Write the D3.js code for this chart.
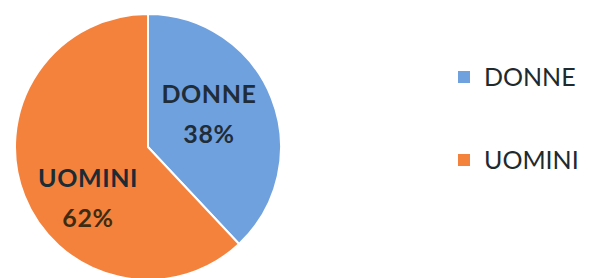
<!DOCTYPE html>
<html>
<head>
<meta charset="utf-8">
<script src="https://cdn.jsdelivr.net/npm/d3@7"></script>
<style>
  html, body { margin: 0; padding: 0; background: #fff; }
  svg { display: block; font-family: Lato, "Open Sans", sans-serif; }
</style>
</head>
<body>
<svg id="chart" width="590" height="278"></svg>
<script>
// data
const categories = ['DONNE', 'UOMINI'];
const values = [38, 62];
const colors = ['#70a1df', '#f5823c'];
const labelColors = [['#1f2d38', '#1f2d38'], ['#1b2c35', '#3e2c12']];

const svg = d3.select('#chart');

// pie geometry
const cx = 148, cy = 147, radius = 133;

const pie = d3.pie().sort(null).value(d => d.value);
const arc = d3.arc().innerRadius(0).outerRadius(radius);

const data = categories.map((c, i) => ({ name: c, value: values[i], i: i }));
const arcs = pie(data);

const g = svg.append('g').attr('transform', 'translate(' + cx + ',' + cy + ')');

g.selectAll('path.slice')
  .data(arcs)
  .join('path')
  .attr('class', 'slice')
  .attr('d', arc)
  .attr('fill', d => colors[d.data.i])
  .attr('stroke', '#fff')
  .attr('stroke-width', 2);

// slice labels (name + percent)
const labelPos = [[61, -44], [-60, 40]];
const lbl = g.selectAll('g.lbl')
  .data(arcs)
  .join('g')
  .attr('class', 'lbl')
  .attr('transform', d => 'translate(' + labelPos[d.data.i][0] + ',' + labelPos[d.data.i][1] + ')');

lbl.append('text')
  .attr('text-anchor', 'middle')
  .style('font-size', '25px')
  .style('font-weight', 'bold')
  .style('letter-spacing', '0.6px')
  .attr('fill', d => labelColors[d.data.i][0])
  .text(d => d.data.name);

lbl.append('text')
  .attr('text-anchor', 'middle')
  .attr('y', 40)
  .style('font-size', '25px')
  .style('font-weight', 'bold')
  .style('letter-spacing', '0.6px')
  .attr('fill', d => labelColors[d.data.i][1])
  .text(d => d.data.value + '%');

// legend
const legend = svg.append('g').attr('transform', 'translate(458,71)');
const item = legend.selectAll('g')
  .data(data)
  .join('g')
  .attr('transform', d => 'translate(0,' + d.i * 83 + ')');

item.append('rect')
  .attr('width', 12)
  .attr('height', 12)
  .attr('fill', d => colors[d.i]);

item.append('text')
  .attr('x', 26)
  .attr('y', 15)
  .style('font-size', '25px')
  .attr('fill', '#1e2a2e')
  .text(d => d.name);
</script>
</body>
</html>
